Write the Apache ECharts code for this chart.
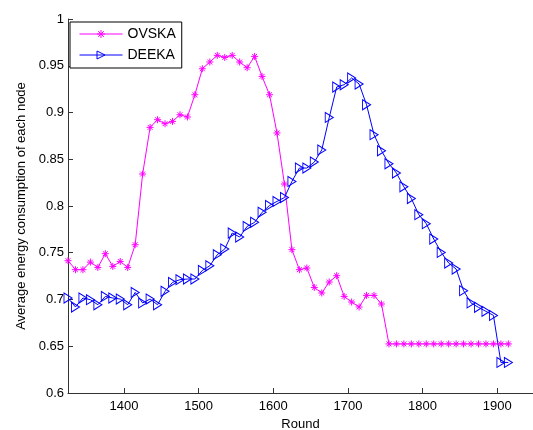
<!DOCTYPE html>
<html>
<head>
<meta charset="utf-8">
<script src="https://cdn.jsdelivr.net/npm/echarts@6/dist/echarts.min.js"></script>
<style>
html,body{margin:0;padding:0;background:#fff;}
#chart{width:533px;height:430px;}
</style>
</head>
<body>
<div id="chart"></div>
<script>
const rounds = [1325,1335,1345,1355,1365,1375,1385,1395,1405,1415,
                1425,1435,1445,1455,1465,1475,1485,1495,1505,1515,
                1525,1535,1545,1555,1565,1575,1585,1595,1605,1615,
                1625,1635,1645,1655,1665,1675,1685,1695,1705,1715,
                1725,1735,1745,1755,1765,1775,1785,1795,1805,1815,
                1825,1835,1845,1855,1865,1875,1885,1895,1905,1915];
const ovska = [0.7415,0.7319,0.7319,0.7400,0.7343,0.7490,0.7354,0.7407,0.7343,0.7586,
               0.8342,0.8841,0.8923,0.8880,0.8905,0.8976,0.8952,0.9190,0.9468,0.9540,
               0.9611,0.9589,0.9611,0.9540,0.9479,0.9600,0.9386,0.9190,0.8781,0.8235,
               0.7533,0.7319,0.7337,0.7129,0.7070,0.7187,0.7255,0.7033,0.6973,0.6920,
               0.7044,0.7044,0.6952,0.6525,0.6525,0.6525,0.6525,0.6525,0.6525,0.6525,
               0.6525,0.6525,0.6525,0.6525,0.6525,0.6525,0.6525,0.6525,0.6525,0.6525];
const deeka = [0.7016,0.6920,0.7016,0.6998,0.6944,0.7033,0.7016,0.7005,0.6944,0.7076,
               0.6963,0.7005,0.6944,0.7087,0.7183,0.7212,0.7219,0.7219,0.7311,0.7361,
               0.7479,0.7540,0.7711,0.7668,0.7782,0.7825,0.7932,0.8006,0.8049,0.8090,
               0.8263,0.8406,0.8406,0.8470,0.8600,0.8947,0.9273,0.9297,0.9369,0.9305,
               0.9083,0.8763,0.8591,0.8452,0.8353,0.8205,0.8080,0.7907,0.7811,0.7647,
               0.7504,0.7390,0.7326,0.7094,0.6963,0.6916,0.6873,0.6830,0.6327,0.6327];
const xTicks = [1400,1500,1600,1700,1800,1900];
const seriesNames = ['OVSKA','DEEKA'];

const starPath = 'path://M0 5 L10 5 M5 0 L5 10 M1.5 1.5 L8.5 8.5 M8.5 1.5 L1.5 8.5';
const triPath = 'path://M0 0 L8 5 L0 10 Z';
const magenta = '#ff00ff';
const blue = '#0000ff';

const chart = echarts.init(document.getElementById('chart'));
const font = 'Arial, "Liberation Sans", sans-serif';
chart.setOption({
  animation: false,
  backgroundColor: '#fff',
  grid: {left: 68, top: 19, right: 0, bottom: 37, containLabel: false, outerBoundsMode: 'none'},
  legend: {
    orient: 'vertical', left: 70, top: 22,
    data: [
      {name: seriesNames[0],
       itemStyle: {color: magenta, borderColor: magenta, borderWidth: 1},
       lineStyle: {color: magenta, width: 1}},
      {name: seriesNames[1],
       itemStyle: {color: 'rgba(255,255,255,0)', borderColor: blue, borderWidth: 1},
       lineStyle: {color: blue, width: 1}}
    ],
    backgroundColor: '#fff', borderColor: '#000', borderWidth: 1, borderRadius: 0,
    padding: [4, 6, 5, 9], itemWidth: 43, itemHeight: 10, itemGap: 5,
    textStyle: {fontFamily: font, fontSize: 14, color: '#000', lineHeight: 16},
    z: 10
  },
  xAxis: {
    type: 'value', min: 1325, max: 1948,
    name: 'Round', nameLocation: 'middle', nameGap: 22,
    nameTextStyle: {fontFamily: font, fontSize: 13, color: '#000'},
    axisLine: {onZero: false, lineStyle: {color: '#333', width: 1}},
    axisTick: {inside: true, length: 5, customValues: xTicks, lineStyle: {color: '#333'}},
    axisLabel: {customValues: xTicks, margin: 7, fontFamily: font, fontSize: 13, color: '#000',
      formatter: v => String(v)},
    splitLine: {show: false}
  },
  yAxis: {
    type: 'value', min: 0.6, max: 1, interval: 0.05,
    name: 'Average energy consumption of each node', nameLocation: 'middle', nameGap: 40,
    nameTextStyle: {fontFamily: font, fontSize: 13, color: '#000'},
    axisLine: {show: true, onZero: false, lineStyle: {color: '#333', width: 1}},
    axisTick: {show: true, inside: true, length: 5, lineStyle: {color: '#333'}},
    axisLabel: {margin: 4, fontFamily: font, fontSize: 13, color: '#000',
      formatter: v => String(Math.round(v * 100) / 100)},
    splitLine: {show: false}
  },
  series: [
    {
      name: seriesNames[0], type: 'line',
      data: rounds.map((r, i) => [r, ovska[i]]),
      symbol: starPath, symbolSize: 7, showAllSymbol: true,
      lineStyle: {color: magenta, width: 1},
      itemStyle: {color: magenta, borderColor: magenta, borderWidth: 1},
      clip: false
    },
    {
      name: seriesNames[1], type: 'line',
      data: rounds.map((r, i) => [r, deeka[i]]),
      symbol: triPath, symbolSize: [8, 10], showAllSymbol: true,
      lineStyle: {color: blue, width: 1},
      itemStyle: {color: 'rgba(255,255,255,0)', borderColor: blue, borderWidth: 1},
      clip: false
    }
  ]
});
</script>
</body>
</html>
